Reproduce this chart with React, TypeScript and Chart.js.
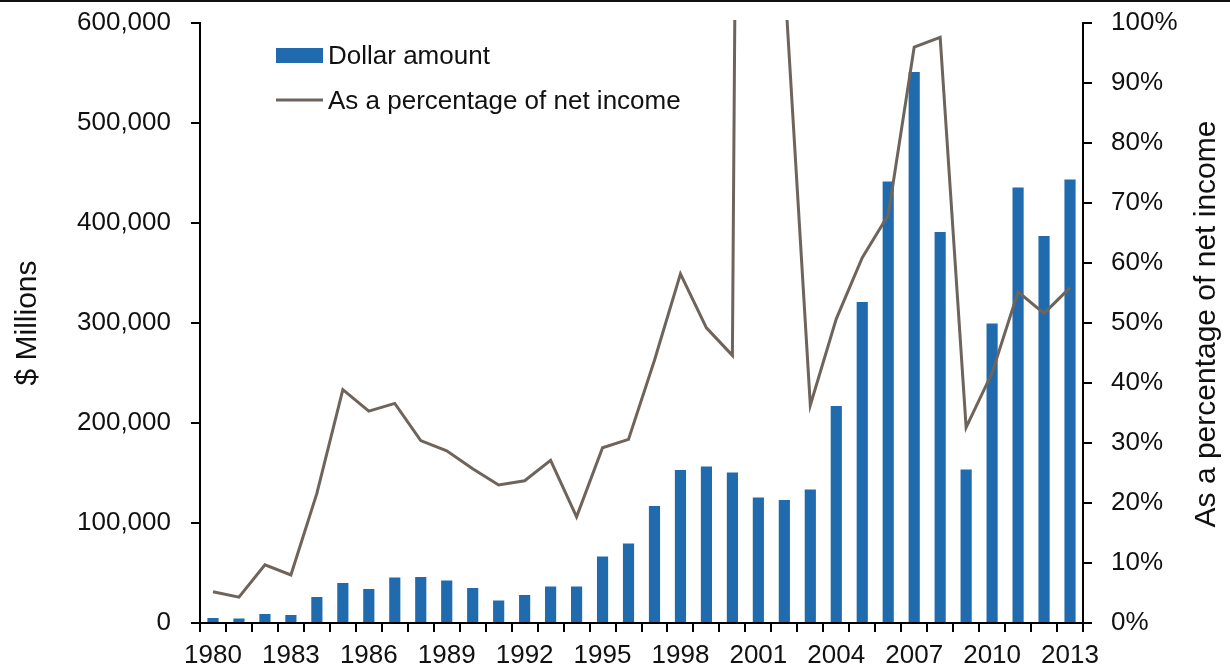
import React, { useEffect, useRef } from "react";
import { Chart, registerables } from "chart.js";

Chart.register(...registerables);

const years = [
  "1980", "1981", "1982", "1983", "1984", "1985", "1986", "1987", "1988", "1989",
  "1990", "1991", "1992", "1993", "1994", "1995", "1996", "1997", "1998", "1999",
  "2000", "2001", "2002", "2003", "2004", "2005", "2006", "2007", "2008", "2009",
  "2010", "2011", "2012", "2013",
];

const dollarAmount = [
  5000, 4500, 9000, 8000, 26000, 40000, 34000, 45500, 46000, 42500,
  35000, 22500, 28000, 36500, 36500, 66500, 79500, 117000, 153000, 156500,
  150500, 125500, 123000, 133500, 217000, 321000, 441500, 551000, 391000, 153500,
  299500, 435500, 387000, 443500,
];

const pctNetIncome = [
  5.2, 4.3, 9.7, 8.0, 21.6, 38.9, 35.3, 36.6, 30.4, 28.7,
  25.7, 23.0, 23.7, 27.1, 17.7, 29.2, 30.6, 43.8, 58.2, 49.2,
  44.6, 655, 108, 36.3, 50.7, 60.9, 68.0, 96.0, 97.6, 32.6,
  41.7, 55.2, 51.6, 55.9,
];

const legendLabels = ["Dollar amount", "As a percentage of net income"];
const leftTitle = "$ Millions";
const rightTitle = "As a percentage of net income";

const FONT = "'Liberation Sans', Arial, sans-serif";
const BLUE = "#1F6BAE";
const GRAY = "#6E645C";

export default function App() {
  const ref = useRef<HTMLCanvasElement | null>(null);

  useEffect(() => {
    const canvas = ref.current;
    if (!canvas) return;

    const decor = {
      id: "decor",
      afterDraw(chart: any) {
        const ctx = chart.ctx;
        ctx.save();
        // top border
        ctx.fillStyle = "#111";
        ctx.fillRect(0, 0, chart.width, 2);
        // legend
        ctx.fillStyle = BLUE;
        ctx.fillRect(276, 48, 47, 15);
        ctx.strokeStyle = GRAY;
        ctx.lineWidth = 3;
        ctx.beginPath();
        ctx.moveTo(276, 100);
        ctx.lineTo(323, 100);
        ctx.stroke();
        ctx.fillStyle = "#111";
        ctx.font = `26px ${FONT}`;
        ctx.textBaseline = "alphabetic";
        ctx.textAlign = "left";
        ctx.fillText(legendLabels[0], 328, 64);
        ctx.fillText(legendLabels[1], 328, 109);
        // right axis title (reads bottom to top)
        ctx.translate(1207, 324);
        ctx.rotate(-Math.PI / 2);
        ctx.font = `30px ${FONT}`;
        ctx.textAlign = "center";
        ctx.textBaseline = "middle";
        ctx.fillText(rightTitle, 0, 0);
        ctx.restore();
      },
    };

    const chart = new Chart(canvas, {
      type: "bar",
      data: {
        labels: years,
        datasets: [
          {
            type: "line",
            label: legendLabels[1],
            data: pctNetIncome,
            yAxisID: "y1",
            borderColor: GRAY,
            borderWidth: 3,
            pointRadius: 0,
            tension: 0,
            fill: false,
            order: 0,
            clip: { left: 5, right: 5, top: 3, bottom: 5 },
          } as any,
          {
            type: "bar",
            label: legendLabels[0],
            data: dollarAmount,
            yAxisID: "y",
            backgroundColor: BLUE,
            categoryPercentage: 1,
            barPercentage: 0.43,
            order: 1,
          },
        ],
      },
      options: {
        responsive: false,
        animation: false,
        layout: { padding: { top: 23, left: 0, right: 0, bottom: 0 } },
        plugins: {
          legend: { display: false },
          tooltip: { enabled: false },
        },
        scales: {
          x: {
            type: "category",
            offset: true,
            grid: {
              offset: true,
              drawOnChartArea: false,
              drawTicks: true,
              tickLength: 9,
              color: "#000",
              lineWidth: 2,
            },
            border: { display: true, color: "#000", width: 2 },
            ticks: {
              autoSkip: false,
              maxRotation: 0,
              minRotation: 0,
              padding: 8,
              color: "#111",
              font: { family: FONT, size: 26 },
              callback: (_v: any, i: number) => (i % 3 === 0 ? years[i] : ""),
            },
            afterFit: (s: any) => {
              s.height = 48;
              s.paddingLeft = 0;
              s.paddingRight = 0;
            },
          },
          y: {
            type: "linear",
            position: "left",
            min: 0,
            max: 600000,
            grid: {
              drawOnChartArea: false,
              drawTicks: true,
              tickLength: 9,
              color: "#000",
              lineWidth: 2,
            },
            border: { display: true, color: "#000", width: 2 },
            ticks: {
              stepSize: 100000,
              padding: 20,
              color: "#111",
              font: { family: FONT, size: 26 },
              callback: (v: any) => Number(v).toLocaleString("en-US"),
            },
            title: {
              display: true,
              text: leftTitle,
              color: "#111",
              font: { family: FONT, size: 30 },
              padding: { top: 10, bottom: 0 },
            },
            afterFit: (s: any) => {
              s.width = 200;
              s.paddingTop = 0;
              s.paddingBottom = 0;
            },
          },
          y1: {
            type: "linear",
            position: "right",
            min: 0,
            max: 100,
            grid: {
              drawOnChartArea: false,
              drawTicks: true,
              tickLength: 9,
              color: "#000",
              lineWidth: 2,
            },
            border: { display: true, color: "#000", width: 2 },
            ticks: {
              stepSize: 10,
              padding: 19,
              color: "#111",
              font: { family: FONT, size: 26 },
              callback: (v: any) => `${v}%`,
            },
            afterFit: (s: any) => {
              s.width = 147;
              s.paddingTop = 0;
              s.paddingBottom = 0;
            },
          },
        },
      },
      plugins: [decor],
    });

    return () => chart.destroy();
  }, []);

  return (
    <div style={{ position: "fixed", left: 0, top: 0, width: 1230, height: 671, background: "#fff" }}>
      <canvas ref={ref} width={1230} height={671} style={{ display: "block" }} />
    </div>
  );
}
